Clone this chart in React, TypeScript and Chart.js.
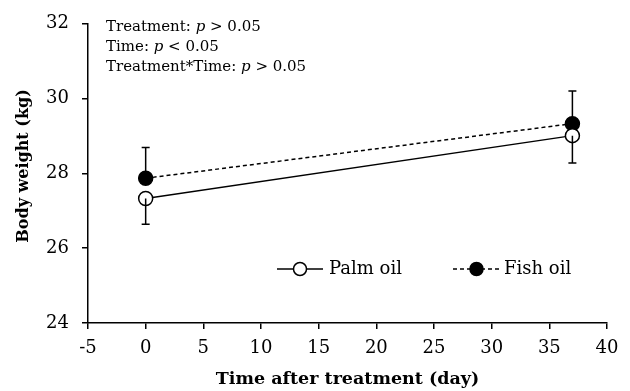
import React, { useEffect, useRef } from "react";
import { Chart, registerables } from "chart.js";

Chart.register(...registerables);

const days = [0, 37];
const palmOil = [27.33, 29.01];
const palmOilSE = [0.69, 0.73];
const fishOil = [27.87, 29.33];
const fishOilSE = [0.82, 0.87];
const xTicks = [-5, 0, 5, 10, 15, 20, 25, 30, 35, 40];
const yTicks = [24, 26, 28, 30, 32];
const seriesNames = ["Palm oil", "Fish oil"];
const yTitle = "Body weight (kg)";
const xTitle = "Time after treatment (day)";
const statLines: [string, string][] = [
  ["Treatment: ", " > 0.05"],
  ["Time: ", " < 0.05"],
  ["Treatment*Time: ", " > 0.05"],
];

const FONT = "'DejaVu Serif', 'Liberation Serif', serif";

const errorBarPlugin = {
  id: "errorBars",
  afterDatasetsDraw(chart: any) {
    const ctx = chart.ctx;
    const xs = chart.scales.x;
    const ys = chart.scales.y;
    ctx.save();
    ctx.strokeStyle = "#000";
    ctx.lineWidth = 1.5;
    const draw = (vals: number[], errs: number[], dir: number) => {
      days.forEach((d, i) => {
        const x = xs.getPixelForValue(d);
        const y0 = ys.getPixelForValue(vals[i]);
        const y1 = ys.getPixelForValue(vals[i] + dir * errs[i]);
        ctx.beginPath();
        ctx.moveTo(x, y0);
        ctx.lineTo(x, y1);
        ctx.moveTo(x - 4, y1);
        ctx.lineTo(x + 4, y1);
        ctx.stroke();
      });
    };
    draw(palmOil, palmOilSE, -1);
    draw(fishOil, fishOilSE, 1);
    ctx.restore();
  },
};

const annotationPlugin = {
  id: "annot",
  afterDraw(chart: any) {
    const ctx = chart.ctx;
    ctx.save();
    ctx.fillStyle = "#000";
    ctx.textBaseline = "alphabetic";
    const size = 15;
    const x0 = 106;
    statLines.forEach((ln, i) => {
      const y = 30.5 + i * 20.2;
      let x = x0;
      ctx.font = `${size}px ${FONT}`;
      ctx.fillText(ln[0], x, y);
      x += ctx.measureText(ln[0]).width;
      ctx.font = `italic ${size}px ${FONT}`;
      ctx.fillText("p", x, y);
      x += ctx.measureText("p").width;
      ctx.font = `${size}px ${FONT}`;
      ctx.fillText(ln[1], x, y);
    });

    // y-axis title
    ctx.save();
    ctx.translate(24, 166);
    ctx.rotate(-Math.PI / 2);
    ctx.font = `bold 16px ${FONT}`;
    ctx.textAlign = "center";
    ctx.textBaseline = "middle";
    ctx.fillText(yTitle, 0, 0);
    ctx.restore();

    // legend
    const ly = 269;
    const items = [
      { name: seriesNames[0], x: 277, w: 46, tx: 329, fill: "#fff", dash: [] as number[] },
      { name: seriesNames[1], x: 453, w: 47, tx: 504, fill: "#000", dash: [4, 3] },
    ];
    items.forEach((it) => {
      ctx.strokeStyle = "#000";
      ctx.lineWidth = 1.5;
      ctx.setLineDash(it.dash);
      ctx.beginPath();
      ctx.moveTo(it.x, ly);
      ctx.lineTo(it.x + it.w, ly);
      ctx.stroke();
      ctx.setLineDash([]);
      ctx.beginPath();
      ctx.arc(it.x + it.w / 2, ly, 6.5, 0, Math.PI * 2);
      ctx.fillStyle = it.fill;
      ctx.fill();
      ctx.stroke();
      ctx.fillStyle = "#000";
      ctx.font = `18px ${FONT}`;
      ctx.textBaseline = "middle";
      ctx.fillText(it.name, it.tx, ly);
    });
    ctx.restore();
  },
};

export default function App() {
  const ref = useRef<HTMLCanvasElement>(null);
  useEffect(() => {
    document.body.style.margin = "0";
    const chart = new Chart(ref.current!, {
      type: "line",
      data: {
        datasets: [
          {
            label: seriesNames[0],
            data: days.map((d, i) => ({ x: d, y: palmOil[i] })),
            borderColor: "#000",
            borderWidth: 1.5,
            pointRadius: 7,
            pointBackgroundColor: "#fff",
            pointBorderColor: "#000",
            pointBorderWidth: 1.5,
            fill: false,
          },
          {
            label: seriesNames[1],
            data: days.map((d, i) => ({ x: d, y: fishOil[i] })),
            borderColor: "#000",
            borderWidth: 1.5,
            borderDash: [4, 3],
            pointRadius: 7,
            pointBackgroundColor: "#000",
            pointBorderColor: "#000",
            pointBorderWidth: 1.5,
            fill: false,
          },
        ],
      },
      options: {
        animation: false,
        responsive: false,
        layout: { padding: { top: 16, right: 23, left: 0, bottom: 0 } },
        plugins: { legend: { display: false }, tooltip: { enabled: false } },
        scales: {
          x: {
            type: "linear",
            min: -5,
            max: 40,
            afterBuildTicks: (s: any) => {
              s.ticks = xTicks.map((v) => ({ value: v }));
            },
            afterFit: (s: any) => {
              s.height = 68;
            },
            ticks: { color: "#000", font: { family: FONT, size: 18 }, padding: 9, maxRotation: 0 },
            grid: { drawOnChartArea: false, drawTicks: true, tickLength: 6, color: "#000", lineWidth: 1.5 },
            border: { color: "#000", width: 1.5 },
            title: {
              display: true,
              text: xTitle,
              color: "#000",
              font: { family: FONT, size: 17.5, weight: "bold" },
              padding: { top: 0, bottom: 1 },
            },
          },
          y: {
            type: "linear",
            min: 24,
            max: 32,
            afterBuildTicks: (s: any) => {
              s.ticks = yTicks.map((v) => ({ value: v }));
            },
            afterFit: (s: any) => {
              s.width = 88;
            },
            ticks: { color: "#000", font: { family: FONT, size: 18 }, padding: 13 },
            grid: { drawOnChartArea: false, drawTicks: true, tickLength: 6, color: "#000", lineWidth: 1.5 },
            border: { color: "#000", width: 1.5 },
            title: { display: false },
          },
        },
      },
      plugins: [errorBarPlugin, annotationPlugin],
    });
    return () => chart.destroy();
  }, []);
  return <canvas ref={ref} width={630} height={391} style={{ display: "block" }} />;
}
